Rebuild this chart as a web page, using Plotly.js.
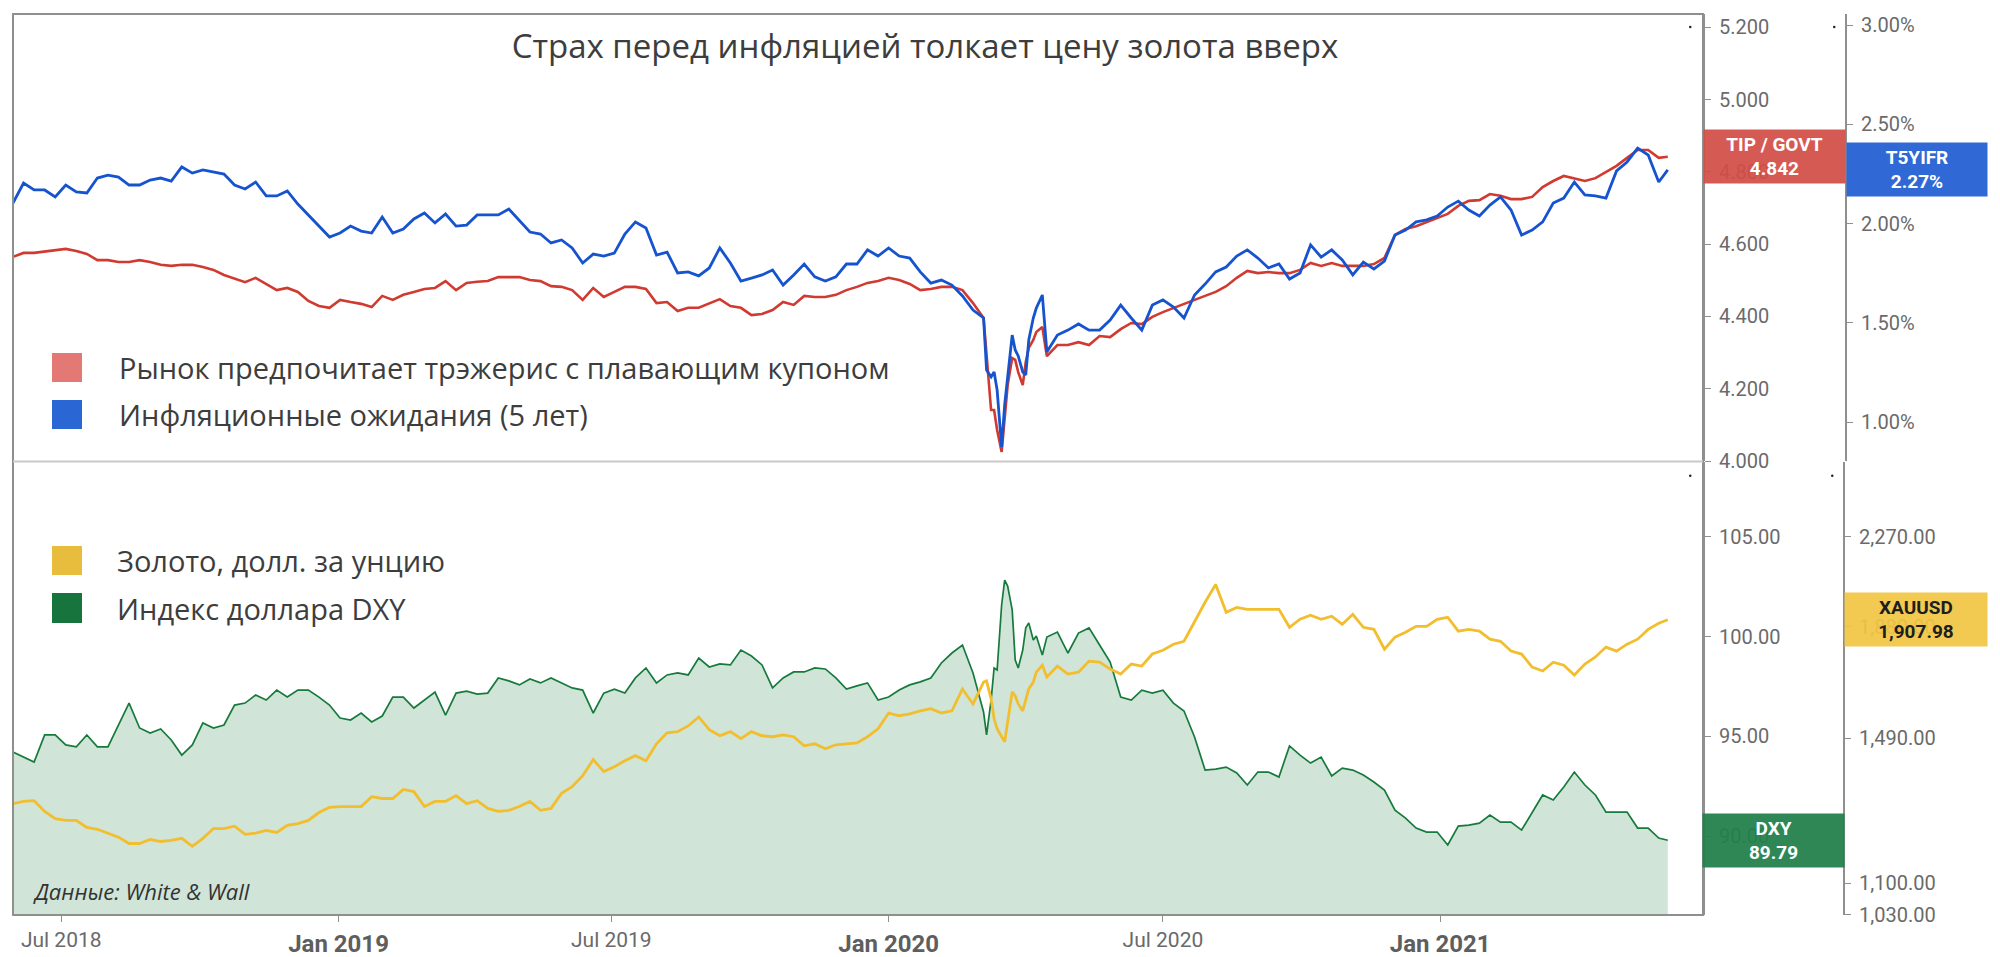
<!DOCTYPE html>
<html>
<head>
<meta charset="utf-8">
<script src="https://cdn.plot.ly/plotly-3.0.1.min.js"></script>
<style>
html,body{margin:0;padding:0;background:#fff;}
#chart{width:2000px;height:957px;}
</style>
</head>
<body>
<div id="chart"></div>
<script>
// ---------------- DATA ----------------
const dates = [
'2018-05-30','2018-06-06','2018-06-13','2018-06-20','2018-06-27','2018-07-04','2018-07-11','2018-07-18','2018-07-25','2018-08-01',
'2018-08-08','2018-08-15','2018-08-22','2018-08-29','2018-09-05','2018-09-12','2018-09-19','2018-09-26','2018-10-03','2018-10-10',
'2018-10-17','2018-10-24','2018-10-31','2018-11-07','2018-11-14','2018-11-21','2018-11-28','2018-12-05','2018-12-12','2018-12-19',
'2018-12-26','2019-01-02','2019-01-09','2019-01-16','2019-01-23','2019-01-30','2019-02-06','2019-02-13','2019-02-20','2019-02-27',
'2019-03-06','2019-03-13','2019-03-20','2019-03-27','2019-04-03','2019-04-10','2019-04-17','2019-04-24','2019-05-01','2019-05-08',
'2019-05-15','2019-05-22','2019-05-29','2019-06-05','2019-06-12','2019-06-19','2019-06-26','2019-07-03','2019-07-10','2019-07-17',
'2019-07-24','2019-07-31','2019-08-07','2019-08-14','2019-08-21','2019-08-28','2019-09-04','2019-09-11','2019-09-18','2019-09-25',
'2019-10-02','2019-10-09','2019-10-16','2019-10-23','2019-10-30','2019-11-06','2019-11-13','2019-11-20','2019-11-27','2019-12-04',
'2019-12-11','2019-12-18','2019-12-25','2020-01-01','2020-01-08','2020-01-15','2020-01-22','2020-01-29','2020-02-05','2020-02-12',
'2020-02-19','2020-02-26',
'2020-03-04','2020-03-06','2020-03-09','2020-03-11','2020-03-13','2020-03-16','2020-03-18','2020-03-20','2020-03-23','2020-03-25',
'2020-03-27','2020-03-30','2020-04-01','2020-04-03','2020-04-06','2020-04-08','2020-04-12',
'2020-04-15','2020-04-22','2020-04-29','2020-05-06','2020-05-13','2020-05-20','2020-05-27','2020-06-03','2020-06-10','2020-06-17',
'2020-06-24','2020-07-01','2020-07-08','2020-07-15','2020-07-22','2020-07-29','2020-08-05','2020-08-12','2020-08-19','2020-08-26',
'2020-09-02','2020-09-09','2020-09-16','2020-09-23','2020-09-30','2020-10-07','2020-10-14','2020-10-21','2020-10-28','2020-11-04',
'2020-11-11','2020-11-18','2020-11-25','2020-12-02','2020-12-09','2020-12-16','2020-12-23','2020-12-30','2021-01-06','2021-01-13',
'2021-01-20','2021-01-27','2021-02-03','2021-02-10','2021-02-17','2021-02-24','2021-03-03','2021-03-10','2021-03-17','2021-03-24',
'2021-03-31','2021-04-07','2021-04-14','2021-04-21','2021-04-28','2021-05-05','2021-05-12','2021-05-19','2021-05-26','2021-06-01'
];

// TIP / GOVT ratio (left scale of upper panel)
const tipGovt = [
4.565,4.576,4.576,4.579,4.584,4.587,4.581,4.573,4.556,4.556,
4.551,4.551,4.556,4.551,4.543,4.540,4.543,4.543,4.537,4.529,
4.515,4.504,4.495,4.507,4.490,4.473,4.479,4.468,4.443,4.429,
4.424,4.446,4.440,4.435,4.426,4.457,4.446,4.460,4.468,4.476,
4.479,4.498,4.473,4.493,4.496,4.498,4.509,4.509,4.509,4.501,
4.498,4.484,4.482,4.473,4.446,4.479,4.454,4.468,4.482,4.482,
4.476,4.437,4.440,4.415,4.424,4.424,4.435,4.448,4.429,4.424,
4.404,4.407,4.418,4.440,4.432,4.457,4.454,4.454,4.460,4.473,
4.482,4.493,4.498,4.507,4.501,4.490,4.473,4.476,4.482,4.482,
4.473,4.437,
4.396,4.293,4.141,4.141,4.086,4.025,4.113,4.210,4.285,4.280,
4.246,4.210,4.274,4.313,4.335,4.357,4.371,
4.290,4.321,4.321,4.329,4.321,4.346,4.343,4.365,4.382,4.379,
4.399,4.412,4.424,4.435,4.446,4.457,4.468,4.484,4.507,4.526,
4.520,4.523,4.520,4.520,4.529,4.548,4.540,4.548,4.540,4.540,
4.540,4.545,4.562,4.626,4.642,4.650,4.662,4.673,4.684,4.706,
4.720,4.722,4.739,4.734,4.725,4.725,4.731,4.758,4.775,4.789,
4.783,4.775,4.783,4.800,4.817,4.839,4.861,4.861,4.839,4.842
];

// T5YIFR, % (right scale of upper panel)
const t5yifr = [
2.103,2.204,2.169,2.169,2.134,2.194,2.159,2.154,2.229,2.244,
2.234,2.194,2.194,2.219,2.229,2.214,2.285,2.254,2.270,2.260,
2.249,2.194,2.174,2.209,2.139,2.139,2.164,2.098,2.043,1.987,
1.932,1.952,1.987,1.962,1.952,2.033,1.952,1.972,2.023,2.053,
2.003,2.048,1.987,1.992,2.043,2.043,2.043,2.073,2.013,1.957,
1.947,1.902,1.917,1.877,1.801,1.846,1.836,1.851,1.947,2.008,
1.977,1.841,1.856,1.751,1.756,1.736,1.776,1.877,1.801,1.710,
1.725,1.741,1.766,1.690,1.741,1.796,1.731,1.710,1.731,1.796,
1.796,1.867,1.836,1.877,1.836,1.826,1.756,1.700,1.715,1.690,
1.635,1.564,
1.524,1.262,1.227,1.252,1.161,0.874,1.086,1.237,1.438,1.363,
1.333,1.252,1.237,1.413,1.524,1.574,1.640,
1.353,1.438,1.463,1.494,1.463,1.463,1.514,1.589,1.524,1.463,
1.589,1.615,1.579,1.524,1.640,1.695,1.756,1.781,1.836,1.867,
1.826,1.776,1.796,1.720,1.751,1.892,1.831,1.867,1.816,1.741,
1.806,1.771,1.811,1.942,1.967,2.008,2.018,2.038,2.083,2.113,
2.068,2.038,2.093,2.134,2.068,1.942,1.967,2.008,2.103,2.128,
2.209,2.144,2.139,2.128,2.265,2.310,2.380,2.345,2.209,2.27
];

// DXY dollar index (left scale of lower panel)
const dxy = [
94.21,93.96,93.71,95.07,95.07,94.57,94.47,95.07,94.47,94.47,
95.57,96.67,95.42,95.17,95.37,94.82,94.06,94.57,95.67,95.42,
95.57,96.57,96.67,97.07,96.82,97.32,96.97,97.32,97.32,96.97,
96.57,95.92,95.82,96.17,95.72,96.02,96.97,96.97,96.42,96.82,
97.22,96.07,97.17,97.27,97.12,97.17,97.93,97.78,97.58,97.88,
97.68,97.93,97.68,97.43,97.32,96.17,97.17,97.37,97.17,97.93,
98.43,97.68,98.08,98.18,98.08,98.93,98.48,98.63,98.58,99.33,
99.03,98.58,97.43,97.93,98.23,98.23,98.43,98.38,97.93,97.37,
97.53,97.68,96.82,96.97,97.32,97.58,97.73,97.93,98.68,99.18,
99.58,98.18,
96.22,95.07,96.82,98.43,98.33,101.59,102.84,102.54,101.34,98.83,
98.43,99.33,100.44,100.69,99.83,100.03,99.08,
99.98,100.23,99.18,100.18,100.44,99.58,98.73,96.97,96.82,97.32,
97.17,97.32,96.67,96.27,94.97,93.31,93.36,93.46,93.16,92.56,
93.21,93.21,92.96,94.52,94.06,93.66,93.96,93.01,93.41,93.31,
93.06,92.71,92.31,91.30,90.90,90.40,90.20,90.20,89.55,90.50,
90.55,90.65,91.05,90.70,90.70,90.30,91.20,92.06,91.81,92.46,
93.21,92.56,92.06,91.20,91.20,91.20,90.40,90.40,89.90,89.79
];

// XAUUSD gold, USD per ounce (right log scale of lower panel)
const gold = [
1299,1305,1307,1278,1259,1254,1254,1236,1231,1221,
1211,1195,1195,1205,1200,1203,1208,1188,1208,1233,
1233,1239,1218,1221,1228,1223,1241,1246,1254,1275,
1289,1291,1291,1291,1318,1313,1313,1338,1332,1291,
1305,1305,1321,1299,1307,1286,1278,1281,1291,1305,
1281,1286,1327,1346,1377,1424,1389,1403,1421,1436,
1421,1472,1506,1510,1528,1557,1516,1497,1510,1488,
1510,1497,1494,1500,1494,1466,1472,1457,1469,1472,
1475,1494,1519,1570,1561,1567,1577,1584,1570,1577,
1651,1600,
1675,1679,1617,1551,1519,1494,1478,1541,1641,1627,
1600,1577,1617,1651,1675,1710,1735,
1693,1732,1703,1710,1750,1746,1721,1703,1739,1732,
1776,1790,1813,1824,1902,1979,2054,1938,1958,1950,
1950,1950,1950,1878,1910,1926,1910,1922,1890,1930,
1878,1870,1794,1840,1859,1882,1882,1910,1918,1863,
1870,1863,1832,1824,1787,1776,1728,1714,1746,1735,
1700,1739,1765,1802,1787,1813,1832,1870,1894,1907.98
];

const xTickJul = ['2018-07-01','2019-07-01','2020-07-01'];
const xTextJul = ['Jul 2018','Jul 2019','Jul 2020'];
const xTickJan = ['2019-01-01','2020-01-01','2021-01-01'];
const xTextJan = ['Jan 2019','Jan 2020','Jan 2021'];
const tipTicks  = [4.0,4.2,4.4,4.6,4.8,5.0,5.2];
const t5Ticks   = [1.0,1.5,2.0,2.5,3.0];
const dxyTicks  = [90,95,100,105];
const goldTicks = [1030,1100,1490,1880,2270];

const title = 'Страх перед инфляцией толкает цену золота вверх';
const legendTop = ['Рынок предпочитает трэжерис с плавающим купоном','Инфляционные ожидания (5 лет)'];
const legendBottom = ['Золото, долл. за унцию','Индекс доллара DXY'];
const source = 'Данные: White & Wall';

// ---------------- GEOMETRY HELPERS ----------------
const W=2000, H=957, ML=13, MR=13, MT=14, MB=42;
const PW=W-ML-MR, PH=H-MT-MB;
const px = x => (x-ML)/PW;
const py = y => (H-MB-y)/PH;
const xEnd = px(1703);

const tickFont = {family:'Roboto, Arial, sans-serif', size:20, color:'#6a6a6a'};
const axisCommon = {
  showgrid:false, zeroline:false, showline:true, linecolor:'#8f8f8f', linewidth:2,
  ticks:'outside', ticklen:6, tickwidth:1, tickcolor:'#8f8f8f', tickfont:tickFont,
  ticklabelstandoff:4, fixedrange:true
};
const fmt2 = v => v.toLocaleString('en-US',{minimumFractionDigits:2, maximumFractionDigits:2});
const last = a => a[a.length-1];

const traces = [
  {x:dates, y:tipGovt, xaxis:'x', yaxis:'y', type:'scatter', mode:'lines',
   line:{color:'#d03a30', width:2.6}, hoverinfo:'skip'},
  {x:dates, y:t5yifr, xaxis:'x', yaxis:'y2', type:'scatter', mode:'lines',
   line:{color:'#1553cf', width:2.8}, hoverinfo:'skip'},
  {x:dates, y:dxy, xaxis:'x2', yaxis:'y3', type:'scatter', mode:'lines',
   line:{color:'#167a3d', width:1.7}, fill:'tozeroy', fillcolor:'#d0e4d7', hoverinfo:'skip'},
  {x:dates, y:gold, xaxis:'x2', yaxis:'y4', type:'scatter', mode:'lines',
   line:{color:'#f2be2e', width:2.8}, hoverinfo:'skip'},
  {x:[], y:[], xaxis:'x3', yaxis:'y3', type:'scatter', mode:'lines', hoverinfo:'skip'}
];

const xRange = ['2018-05-30','2021-06-24 09:00'];

const layout = {
  width:W, height:H,
  margin:{l:ML, r:MR, t:MT, b:MB},
  paper_bgcolor:'#ffffff', plot_bgcolor:'#ffffff',
  showlegend:false, hovermode:false,
  title:{text:title, x:px(925), xref:'paper', xanchor:'center', y:1-46/H, yref:'container', yanchor:'middle',
         font:{family:'Open Sans', size:33, color:'#3d3d3d'}},
  xaxis:{domain:[0,xEnd], anchor:'y', type:'date', range:xRange,
         showticklabels:false, ticks:'', showline:false, showgrid:false, zeroline:false, fixedrange:true},
  xaxis2:{domain:[0,xEnd], anchor:'y3', type:'date', range:xRange,
         tickvals:xTickJul, ticktext:xTextJul,
         ticks:'outside', ticklen:6, tickcolor:'#8f8f8f', tickwidth:1, showline:false, showgrid:false, zeroline:false,
         tickfont:{family:'Roboto, Arial, sans-serif', size:21, color:'#6a6a6a'}, ticklabelstandoff:0, fixedrange:true},
  xaxis3:{overlaying:'x2', anchor:'y3', side:'bottom', type:'date', range:xRange,
         tickvals:xTickJan, ticktext:xTextJan,
         ticks:'outside', ticklen:6, tickcolor:'#8f8f8f', tickwidth:1, showline:false, showgrid:false, zeroline:false,
         tickfont:{family:'Roboto, Arial, sans-serif', size:24, color:'#5e5e5e', weight:'bold'}, ticklabelstandoff:1, fixedrange:true},
  yaxis:Object.assign({}, axisCommon, {domain:[py(461),1], anchor:'x', side:'right',
         range:[4.0, 5.2373], tickvals:tipTicks, ticktext:tipTicks.map(v=>v.toFixed(3))}),
  yaxis2:Object.assign({}, axisCommon, {overlaying:'y', anchor:'free', position:px(1846), side:'right',
         range:[0.8035, 3.0555], tickvals:t5Ticks, ticktext:t5Ticks.map(v=>v.toFixed(2)+'%')}),
  yaxis3:Object.assign({}, axisCommon, {domain:[0,py(462)], anchor:'x2', side:'right',
         range:[86.04, 108.76], tickvals:dxyTicks, ticktext:dxyTicks.map(v=>v.toFixed(2))}),
  yaxis4:Object.assign({}, axisCommon, {overlaying:'y3', anchor:'free', position:px(1844), side:'right',
         type:'log', range:[Math.log10(1030)-0.0004, 3.42385], tickvals:goldTicks, ticktext:goldTicks.map(fmt2)}),
  shapes:[
    {type:'rect', xref:'paper', yref:'paper', x0:0, x1:xEnd, y0:0, y1:1, line:{color:'#8f8f8f', width:2}, layer:'above'},
    {type:'line', xref:'paper', yref:'paper', x0:0, x1:xEnd, y0:py(461.5), y1:py(461.5), line:{color:'#c9c9c9', width:2}, layer:'above'},
    {type:'rect', xref:'paper', yref:'paper', x0:px(52), x1:px(82), y0:py(382), y1:py(353), fillcolor:'#e37874', line:{width:0}, layer:'above'},
    {type:'rect', xref:'paper', yref:'paper', x0:px(52), x1:px(82), y0:py(429), y1:py(400), fillcolor:'#2a66d4', line:{width:0}, layer:'above'},
    {type:'rect', xref:'paper', yref:'paper', x0:px(52), x1:px(82), y0:py(575), y1:py(546), fillcolor:'#e8bd3e', line:{width:0}, layer:'above'},
    {type:'rect', xref:'paper', yref:'paper', x0:px(52), x1:px(82), y0:py(623), y1:py(593), fillcolor:'#17743c', line:{width:0}, layer:'above'},
    {type:'circle', xref:'paper', yref:'paper', x0:px(1689), x1:px(1691.5), y0:py(28.2), y1:py(25.8), fillcolor:'#222', line:{width:0}, layer:'above'},
    {type:'circle', xref:'paper', yref:'paper', x0:px(1833), x1:px(1835.5), y0:py(28.2), y1:py(25.8), fillcolor:'#222', line:{width:0}, layer:'above'},
    {type:'circle', xref:'paper', yref:'paper', x0:px(1689), x1:px(1691.5), y0:py(477), y1:py(474.6), fillcolor:'#222', line:{width:0}, layer:'above'},
    {type:'circle', xref:'paper', yref:'paper', x0:px(1831), x1:px(1833.5), y0:py(477), y1:py(474.6), fillcolor:'#222', line:{width:0}, layer:'above'}
  ],
  annotations:[
    {xref:'paper', yref:'paper', x:px(117), y:py(367.5), xanchor:'left', yanchor:'middle', showarrow:false,
     text:legendTop[0], font:{family:'Open Sans', size:29, color:'#3d3d3d'}},
    {xref:'paper', yref:'paper', x:px(117), y:py(414.5), xanchor:'left', yanchor:'middle', showarrow:false,
     text:legendTop[1], font:{family:'Open Sans', size:29, color:'#3d3d3d'}},
    {xref:'paper', yref:'paper', x:px(115), y:py(560.5), xanchor:'left', yanchor:'middle', showarrow:false,
     text:legendBottom[0], font:{family:'Open Sans', size:29, color:'#3d3d3d'}},
    {xref:'paper', yref:'paper', x:px(115), y:py(608), xanchor:'left', yanchor:'middle', showarrow:false,
     text:legendBottom[1], font:{family:'Open Sans', size:29, color:'#3d3d3d'}},
    {xref:'paper', yref:'paper', x:px(31), y:py(891), xanchor:'left', yanchor:'middle', showarrow:false,
     text:'<i>'+source+'</i>', font:{family:'Open Sans', size:22, color:'#333333'}},
    {xref:'paper', yref:'y', x:px(1774.5), y:last(tipGovt), xanchor:'center', yanchor:'middle', showarrow:false,
     width:141, height:53, borderpad:0, bgcolor:'rgba(210,78,70,0.93)',
     text:'<b>TIP / GOVT</b><br><b>'+last(tipGovt).toFixed(3)+'</b>', font:{family:'Roboto, Arial, sans-serif', size:19, color:'#ffffff'}},
    {xref:'paper', yref:'y2', x:px(1917), y:last(t5yifr), xanchor:'center', yanchor:'middle', showarrow:false,
     width:140, height:53, borderpad:0, bgcolor:'rgba(41,100,212,0.97)',
     text:'<b>T5YIFR</b><br><b>'+last(t5yifr).toFixed(2)+'%</b>', font:{family:'Roboto, Arial, sans-serif', size:19, color:'#ffffff'}},
    {xref:'paper', yref:'y4', x:px(1916), y:Math.log10(last(gold)), xanchor:'center', yanchor:'middle', showarrow:false,
     width:142, height:53, borderpad:0, bgcolor:'rgba(242,198,66,0.92)',
     text:'<b>XAUUSD</b><br><b>'+fmt2(last(gold))+'</b>',
     font:{family:'Roboto, Arial, sans-serif', size:19, color:'#1e1e1e'}},
    {xref:'paper', yref:'y3', x:px(1773.5), y:last(dxy), xanchor:'center', yanchor:'middle', showarrow:false,
     width:141, height:53, borderpad:0, bgcolor:'rgba(34,128,74,0.94)',
     text:'<b>DXY</b><br><b>'+last(dxy).toFixed(2)+'</b>', font:{family:'Roboto, Arial, sans-serif', size:19, color:'#ffffff'}}
  ]
};

Plotly.newPlot('chart', traces, layout, {displayModeBar:false, staticPlot:true, responsive:false});
</script>
</body>
</html>
